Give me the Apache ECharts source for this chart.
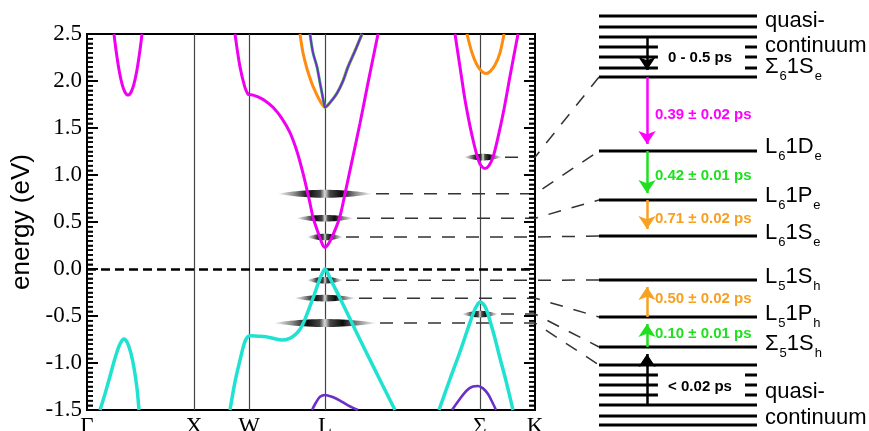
<!DOCTYPE html>
<html><head><meta charset="utf-8">
<script src="https://cdn.jsdelivr.net/npm/echarts@6/dist/echarts.min.js"></script>
<style>html,body{margin:0;padding:0;background:#fff}#c{width:869px;height:431px}</style>
</head><body><div id="c"></div>
<script>
// ---------- k-path (arb. units along the Brillouin-zone path) ----------
const kPoints = [0, 107, 162, 238, 393, 448];
const kLabels = ['Γ', 'X', 'W', 'L', 'Σ', 'K'];
const kLines = [107, 162, 238, 393];
const energyTicks = [-1.5, -1.0, -0.5, 0.0, 0.5, 1.0, 1.5, 2.0, 2.5];

// ---------- band structure [k, E (eV)] ----------
const magentaGamma = [[27,2.5],[29,2.33],[32,2.12],[35,1.97],[38,1.88],[41,1.85],[44,1.88],[47,1.97],[50,2.12],[53,2.33],[55,2.5]];
const magentaWL = [[148,2.5],[153,2.15],[158,1.93],[161,1.86],[162,1.855],[166,1.85],[171,1.83],[178,1.79],[186,1.72],[195,1.60],[203,1.45],[210,1.25],[216,1.02],[220,0.84],[223,0.70],[226,0.55],[230,0.42],[233,0.33],[236,0.25],[238,0.23],[241,0.26],[245,0.34],[249,0.44],[253,0.56],[258,0.80],[265,1.15],[273,1.55],[281,1.98],[291,2.5]];
const magentaSigma = [[368,2.5],[373,2.15],[378,1.80],[383,1.52],[387,1.33],[391,1.17],[394,1.10],[398,1.07],[402,1.10],[406,1.19],[411,1.40],[417,1.70],[423,2.05],[431,2.5]];
const orangeL = [[213,2.5],[216,2.3],[220,2.13],[225,1.97],[230,1.85],[234,1.77],[238,1.72],[243,1.77],[250,1.87],[256,2.0],[261,2.15],[268,2.32],[275,2.5]];
const orangeSigma = [[380,2.5],[385,2.3],[390,2.17],[395,2.10],[399,2.08],[403,2.10],[408,2.17],[413,2.3],[417,2.5]];
const purpleL = [[223,2.5],[226,2.3],[230,2.15],[233,1.98],[235,1.87],[237,1.76],[238,1.72],[243,1.77],[250,1.87],[256,2.0],[261,2.15],[268,2.32],[275,2.5]];
const cyanGamma = [[13,-1.5],[18,-1.33],[23,-1.14],[28,-0.95],[32,-0.82],[35,-0.76],[37,-0.745],[39,-0.76],[41,-0.8],[44,-0.9],[47,-1.05],[50,-1.27],[52,-1.5]];
const cyanWL = [[143,-1.5],[148,-1.2],[153,-0.97],[157,-0.80],[160,-0.73],[163,-0.71],[171,-0.715],[179,-0.72],[187,-0.74],[195,-0.755],[202,-0.74],[208,-0.70],[213,-0.64],[217,-0.56],[221,-0.45],[225,-0.34],[229,-0.22],[233,-0.10],[236,-0.03],[238,0.0],[241,-0.05],[245,-0.14],[253,-0.31],[265,-0.575],[278,-0.86],[293,-1.18],[308,-1.5]];
const cyanSigma = [[352,-1.5],[363,-1.17],[373,-0.88],[381,-0.63],[387,-0.45],[391,-0.37],[393,-0.35],[396,-0.37],[399,-0.42],[403,-0.55],[408,-0.74],[413,-0.95],[419,-1.19],[426,-1.5]];
const violetL = [[225,-1.5],[229,-1.42],[233,-1.36],[238,-1.34],[245,-1.36],[253,-1.40],[261,-1.45],[271,-1.5]];
const violetSigma = [[365,-1.5],[373,-1.38],[380,-1.29],[386,-1.25],[391,-1.245],[396,-1.27],[401,-1.33],[405,-1.41],[409,-1.5]];

// ---------- smeared exciton states ----------
const stateK = [238, 238, 238, 238, 238, 238, 396, 393];
const stateE = [0.80, 0.54, 0.34, -0.12, -0.31, -0.575, 1.19, -0.48];
const stateHalfWidth = [48, 29, 18, 18, 31, 52, 19, 18];
const stateLevel = [151, 200, 236, 280, 317, 365, 77, 347];

// ---------- schematic level diagram (schematic position, top = 0) ----------
const levelsFull = [16, 27, 37, 77, 151, 200, 236, 280, 317, 347, 365, 405, 416, 425];
const levelsPartial = [47, 57, 68, 375, 385, 395];
const partialSpans = [[0, 0.373], [0.924, 1]];
const arrowX = 0.304;
const arrowFrom = [37, 77, 151, 200, 317, 347, 405];
const arrowTo = [77, 151, 200, 236, 280, 317, 347];
const arrowColor = ['#000000', '#ff00ff', '#1fe01f', '#f8a020', '#f8a020', '#1fe01f', '#000000'];

const levelNames = [
  {t: '{m|quasi-}', y: 21},
  {t: '{m|continuum}', y: 46},
  {t: '{m|Σ}{s|6}{m|1S}{s|e}', y: 67},
  {t: '{m|L}{s|6}{m|1D}{s|e}', y: 147},
  {t: '{m|L}{s|6}{m|1P}{s|e}', y: 196},
  {t: '{m|L}{s|6}{m|1S}{s|e}', y: 233},
  {t: '{m|L}{s|5}{m|1S}{s|h}', y: 277},
  {t: '{m|L}{s|5}{m|1P}{s|h}', y: 314},
  {t: '{m|Σ}{s|5}{m|1S}{s|h}', y: 344},
  {t: '{m|quasi-}', y: 392},
  {t: '{m|continuum}', y: 418}
];
const timeLabels = [
  {t: '0 - 0.5 ps', x: 700, y: 58, c: '#000000', a: 'center'},
  {t: '0.39 ± 0.02 ps', x: 655, y: 115, c: '#ff00ff', a: 'left'},
  {t: '0.42 ± 0.01 ps', x: 655, y: 176, c: '#1fe01f', a: 'left'},
  {t: '0.71 ± 0.02 ps', x: 655, y: 219, c: '#f8a020', a: 'left'},
  {t: '0.50 ± 0.02 ps', x: 655, y: 299, c: '#f8a020', a: 'left'},
  {t: '0.10 ± 0.01 ps', x: 655, y: 334, c: '#1fe01f', a: 'left'},
  {t: '< 0.02 ps', x: 700, y: 387, c: '#000000', a: 'center'}
];

const serif = "'Liberation Serif','Times New Roman',serif";
const sans = "'Liberation Sans',Arial,Helvetica,sans-serif";
const MAGENTA = '#f000f0', ORANGE = '#ff8c10', CYAN = '#20e2d0', VIOLET = '#6a30c8';

function band(data, color, width, z) {
  return {type: 'line', xAxisIndex: 0, yAxisIndex: 0, data: data, symbol: 'none', smooth: 0.3,
    lineStyle: {color: color, width: width}, z: z || 4, silent: true, animation: false};
}

const chart = echarts.init(document.getElementById('c'), null, {renderer: 'canvas'});

const axisCommon = {
  axisLine: {show: true, onZero: false, lineStyle: {color: '#000', width: 2}},
  axisTick: {show: true, inside: true, length: 11, lineStyle: {color: '#000', width: 2}},
  minorTick: {show: true, splitNumber: 10, length: 6, lineStyle: {color: '#000', width: 1.5}},
  splitLine: {show: false}, minorSplitLine: {show: false}
};

// tick-mark records [k at axis, energy, length, direction] (majors at tick labels, minors every tenth)
const kMin = kPoints[0], kMax = kPoints[kPoints.length - 1];
const tickMarks = [];
for (let i = 0; i < energyTicks.length; i++) {
  const nSub = i < energyTicks.length - 1 ? 10 : 1;
  for (let j = 0; j < nSub; j++) {
    const v = energyTicks[i] + (j === 0 ? 0 : j * (energyTicks[i + 1] - energyTicks[i]) / 10);
    const len = j === 0 ? 11 : 6;
    tickMarks.push([kMin, v, len, 1]);
    tickMarks.push([kMax, v, len, -1]);
  }
}

const levelSegs = [];
levelsFull.forEach(y => levelSegs.push([0, 1, y]));
levelsPartial.forEach(y => partialSpans.forEach(s => levelSegs.push([s[0], s[1], y])));

const arrowData = arrowFrom.map((f, i) => {
  const dir = arrowTo[i] > f ? 1 : -1;
  return {coords: [[arrowX, f], [arrowX, arrowTo[i] - dir * 7]], lineStyle: {color: arrowColor[i]}, itemStyle: {color: arrowColor[i]}};
});

const option = {
  animation: false,
  backgroundColor: '#fff',
  grid: [
    {left: 87, top: 34, width: 448, height: 376, show: true, borderColor: '#000', borderWidth: 2, backgroundColor: 'transparent',
      containLabel: false, outerBoundsMode: 'none'},
    {left: 599, top: 0, width: 158, height: 431, show: false, containLabel: false, outerBoundsMode: 'none'}
  ],
  xAxis: [
    {type: 'value', gridIndex: 0, min: 0, max: 448, axisLine: {show: true, onZero: false, lineStyle: {color: '#000', width: 2}}, axisTick: {show: false}, splitLine: {show: false},
      axisLabel: {customValues: kPoints, formatter: v => kLabels[kPoints.indexOf(v)], fontFamily: serif, fontSize: 23, color: '#000', margin: 5}},
    {type: 'value', gridIndex: 1, min: 0, max: 1, show: false}
  ],
  yAxis: [
    Object.assign({type: 'value', gridIndex: 0, position: 'left', min: -1.5, max: 2.5, interval: 0.5,
      axisLabel: {formatter: v => v.toFixed(1), fontFamily: serif, fontSize: 23, color: '#000', margin: 5},
      name: 'energy (eV)', nameLocation: 'middle', nameRotate: 90, nameGap: 46,
      nameTextStyle: {fontFamily: sans, fontSize: 26, color: '#000'}}, axisCommon),
    Object.assign({type: 'value', gridIndex: 0, position: 'right', min: -1.5, max: 2.5, interval: 0.5,
      axisLabel: {show: false}}, axisCommon),
    {type: 'value', gridIndex: 1, min: 0, max: 431, inverse: true, show: false}
  ],
  series: [
    {type: 'line', xAxisIndex: 0, yAxisIndex: 0, data: [], silent: true, z: 1,
      markLine: {silent: true, symbol: 'none', z: 1, label: {show: false}, animation: false,
        data: kLines.map(k => ({xAxis: k, lineStyle: {color: '#444', width: 1.2, type: 'solid'}}))
          .concat([{yAxis: 0, lineStyle: {color: '#000', width: 2.5, type: [9, 5]}}])}},
    {type: 'custom', xAxisIndex: 0, yAxisIndex: 0, z: 9, silent: true, animation: false, clip: false,
      data: tickMarks,
      renderItem: function (params, api) {
        const p = api.coord([api.value(0), api.value(1)]);
        const len = api.value(2), dir = api.value(3), hw = len > 8 ? 1 : 0.75;
        const x2 = p[0] + dir * len;
        return {type: 'polygon', shape: {points: [[p[0], p[1] - hw], [x2, p[1] - hw], [x2, p[1] + hw], [p[0], p[1] + hw]]},
          style: {fill: '#000'}};
      }},
    {type: 'custom', xAxisIndex: 0, yAxisIndex: 0, z: 2, silent: true, animation: false,
      data: stateK.map((k, i) => [k, stateE[i], stateHalfWidth[i]]),
      renderItem: function (params, api) {
        const k = api.value(0), e = api.value(1), hw = api.value(2);
        const a = api.coord([k - hw, e]), b = api.coord([k + hw, e]);
        const cx = (a[0] + b[0]) / 2, rx = (b[0] - a[0]) / 2, ry = rx > 35 ? 4 : 3.3;
        const pts = [], n = 24;
        for (let j = 0; j <= n; j++) { const t = -1 + 2 * j / n; pts.push([cx + t * rx, a[1] - ry * (1 - t * t)]); }
        for (let j = n - 1; j > 0; j--) { const t = -1 + 2 * j / n; pts.push([cx + t * rx, a[1] + ry * (1 - t * t)]); }
        return {type: 'polygon', shape: {points: pts}, style: {fill: {type: 'linear', x: 0, y: 0, x2: 1, y2: 0, colorStops: [
          {offset: 0, color: 'rgba(0,0,0,0)'}, {offset: 0.18, color: 'rgba(0,0,0,0.45)'}, {offset: 0.33, color: 'rgba(0,0,0,0.95)'},
          {offset: 0.45, color: 'rgba(50,50,50,0.9)'}, {offset: 0.5, color: 'rgba(225,225,225,0.95)'}, {offset: 0.55, color: 'rgba(50,50,50,0.9)'},
          {offset: 0.67, color: 'rgba(0,0,0,0.95)'}, {offset: 0.82, color: 'rgba(0,0,0,0.45)'}, {offset: 1, color: 'rgba(0,0,0,0)'}]}}};
      }},
    band(magentaGamma, MAGENTA, 3),
    band(magentaWL, MAGENTA, 3),
    band(magentaSigma, MAGENTA, 3),
    band(orangeL, ORANGE, 3),
    band(orangeSigma, ORANGE, 3),
    band(purpleL, '#4ad060', 3, 5),
    band(purpleL, VIOLET, 2, 6),
    band(cyanGamma, CYAN, 3.5),
    band(cyanWL, CYAN, 3.5),
    band(cyanSigma, CYAN, 3.5),
    band(violetL, VIOLET, 2.6),
    band(violetSigma, VIOLET, 2.6),
    {type: 'custom', xAxisIndex: 1, yAxisIndex: 2, silent: true, animation: false, data: levelSegs, z: 3,
      renderItem: function (params, api) {
        const a = api.coord([api.value(0), api.value(2)]), b = api.coord([api.value(1), api.value(2)]);
        return {type: 'line', shape: {x1: a[0], y1: a[1], x2: b[0], y2: b[1]}, style: {stroke: '#000', lineWidth: 3}};
      }},
    {type: 'lines', coordinateSystem: 'cartesian2d', xAxisIndex: 1, yAxisIndex: 2, silent: true, animation: false, z: 6,
      symbol: ['none', 'arrow'], symbolSize: [9, 13], lineStyle: {width: 2.5, opacity: 1, curveness: 0}, data: arrowData}
  ]
};
chart.setOption(option);

const g = [];
// connectors (positions derived from the axes via convertToPixel)
stateK.forEach((k, i) => {
  const p0 = chart.convertToPixel({xAxisIndex: 0, yAxisIndex: 0}, [k + stateHalfWidth[i] + 3, stateE[i]]);
  const p1 = chart.convertToPixel({xAxisIndex: 0, yAxisIndex: 0}, [kMax, stateE[i]]);
  const p2 = chart.convertToPixel({xAxisIndex: 1, yAxisIndex: 2}, [0, stateLevel[i]]);
  g.push({type: 'polyline', silent: true, z: 3, shape: {points: [p0, p1, p2]},
    style: {stroke: '#333', lineWidth: 1.5, lineDash: [13, 11], fill: null}});
});
const labelX = chart.convertToPixel({xAxisIndex: 1, yAxisIndex: 2}, [1, 0])[0] + 8;
levelNames.forEach(L => {
  g.push({type: 'text', x: labelX, y: L.y, silent: true, z: 10,
    style: {text: L.t, align: 'left', verticalAlign: 'middle',
      rich: {m: {fontSize: 22, fontFamily: sans, fill: '#000'},
             s: {fontSize: 13, fontFamily: sans, fill: '#000', padding: [18, 0, 0, 1]}}}});
});
timeLabels.forEach(T => {
  g.push({type: 'text', x: T.x, y: T.y, silent: true, z: 10,
    style: {text: T.t, align: T.a, verticalAlign: 'middle', fill: T.c, fontSize: 15, fontWeight: 'bold', fontFamily: sans}});
});
chart.setOption({graphic: g});
</script>
</body></html>
